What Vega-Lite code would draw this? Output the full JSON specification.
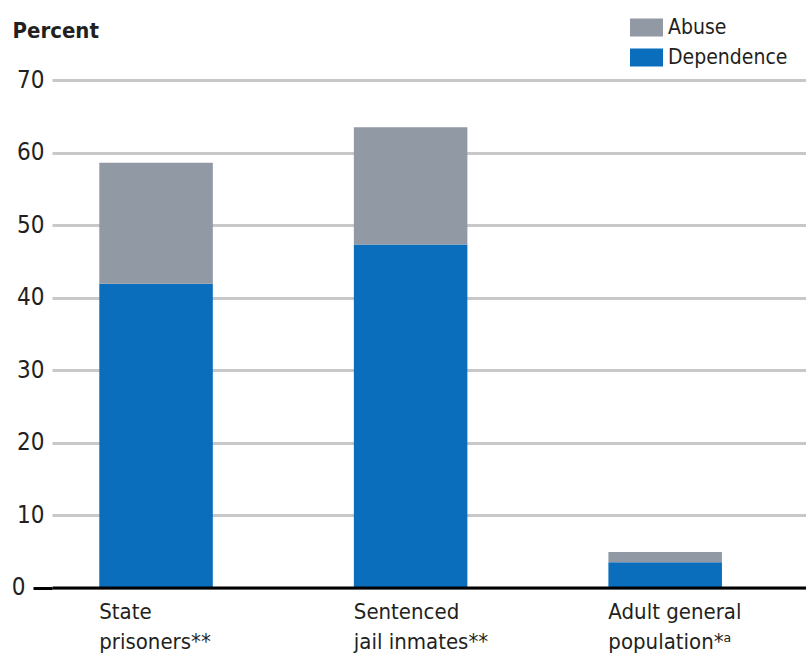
{
  "$schema": "https://vega.github.io/schema/vega-lite/v6.json",
  "width": 754,
  "height": 507.5,
  "autosize": {"type": "none"},
  "padding": {"left": 52, "top": 80, "right": 0, "bottom": 81.5},
  "background": "white",
  "data": {
    "values": [
      {"group": "State prisoners**", "type": "Dependence", "percent": 41.9},
      {"group": "State prisoners**", "type": "Abuse", "percent": 16.7},
      {"group": "Sentenced jail inmates**", "type": "Dependence", "percent": 47.3},
      {"group": "Sentenced jail inmates**", "type": "Abuse", "percent": 16.2},
      {"group": "Adult general population*ᵃ", "type": "Dependence", "percent": 3.5},
      {"group": "Adult general population*ᵃ", "type": "Abuse", "percent": 1.4}
    ]
  },
  "mark": {"type": "bar"},
  "encoding": {
    "x": {
      "field": "group",
      "type": "nominal",
      "sort": null,
      "scale": {"paddingInner": 0.554, "paddingOuter": 0.258, "align": 0.36},
      "axis": {
        "title": null,
        "labelAngle": 0,
        "labelAlign": "left",
        "labelBaseline": "top",
        "labelOffset": -56.8,
        "labelPadding": 14,
        "labelFont": "DejaVu Sans Condensed, Liberation Sans, sans-serif",
        "labelFontSize": 22,
        "labelLineHeight": 30,
        "labelColor": "#231f20",
        "labelExpr": "datum.label == 'State prisoners**' ? ['State', 'prisoners**'] : datum.label == 'Sentenced jail inmates**' ? ['Sentenced', 'jail inmates**'] : ['Adult general', 'population*ᵃ']",
        "ticks": false,
        "domainColor": "#000000",
        "domainWidth": 3,
        "zindex": 1
      }
    },
    "y": {
      "field": "percent",
      "type": "quantitative",
      "stack": "zero",
      "scale": {"domain": [0, 70], "nice": false},
      "axis": {
        "values": [0, 10, 20, 30, 40, 50, 60, 70],
        "title": "Percent",
        "titleAngle": 0,
        "titleAlign": "left",
        "titleBaseline": "alphabetic",
        "titleX": -40,
        "titleY": -43,
        "titleFont": "DejaVu Sans Condensed, Liberation Sans, sans-serif",
        "titleFontSize": 22,
        "titleFontWeight": "bold",
        "titleColor": "#231f20",
        "labelFont": "DejaVu Sans Condensed, Liberation Sans, sans-serif",
        "labelFontSize": 24,
        "labelColor": "#231f20",
        "labelPadding": 8,
        "domain": false,
        "tickSize": {"condition": {"test": "datum.value === 0", "value": 19}, "value": 0},
        "tickColor": {"condition": {"test": "datum.value === 0", "value": "#000000"}, "value": "transparent"},
        "tickWidth": 3,
        "gridColor": "#c8c8c8",
        "gridWidth": 3
      }
    },
    "color": {
      "field": "type",
      "type": "nominal",
      "scale": {"domain": ["Abuse", "Dependence"], "range": ["#9199a5", "#0a6ebd"]},
      "legend": {
        "title": null,
        "orient": "none",
        "legendX": 578,
        "legendY": -69,
        "symbolType": "M-1,-0.55L1,-0.55L1,0.55L-1,0.55Z",
        "symbolSize": 1089,
        "symbolStrokeWidth": 0,
        "labelFont": "DejaVu Sans Condensed, Liberation Sans, sans-serif",
        "labelFontSize": 21,
        "labelColor": "#231f20",
        "labelOffset": 5,
        "rowPadding": 3
      }
    },
    "order": {"field": "type", "sort": "descending"}
  },
  "config": {
    "view": {"stroke": null}
  }
}
